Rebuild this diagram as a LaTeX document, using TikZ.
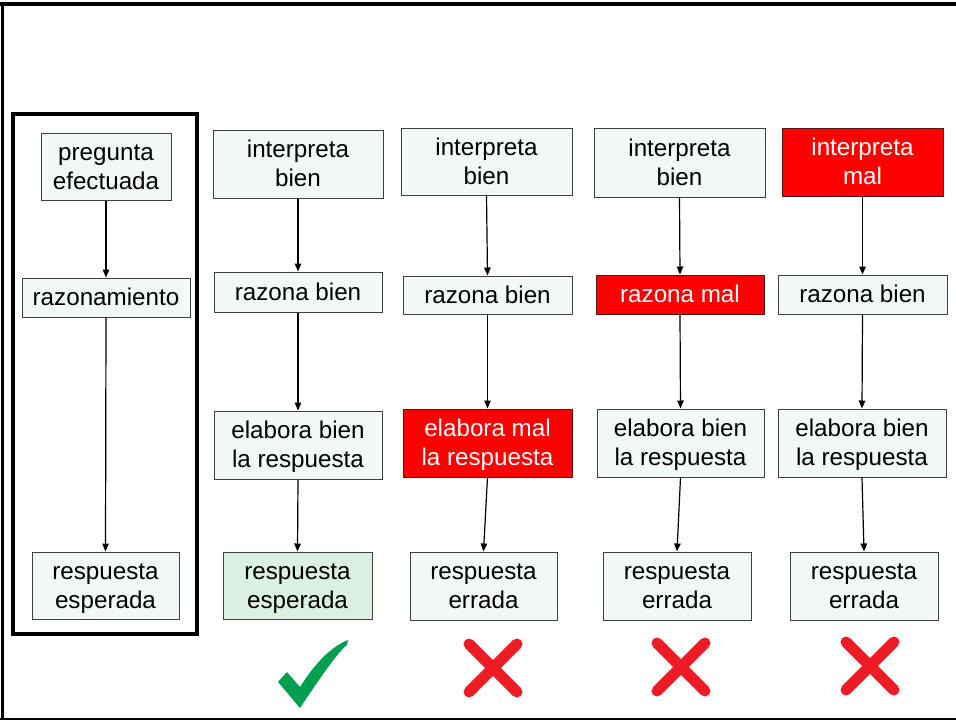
\documentclass[tikz,border=0pt]{standalone}
\usepackage{fontspec}
\setmainfont{Liberation Sans}
\usetikzlibrary{arrows.meta}
\definecolor{boxfill}{RGB}{242,248,248}
\definecolor{greenfill}{RGB}{217,240,227}
\definecolor{redfill}{RGB}{255,0,0}
\definecolor{boxline}{RGB}{64,64,64}
\definecolor{checkgreen}{RGB}{0,160,80}
\definecolor{crossred}{RGB}{237,28,36}
\newcommand{\myst}{\vrule width0pt height21.9pt depth5.2pt\relax}
\tikzset{
  box/.style={draw=boxline, line width=1pt, fill=boxfill, inner sep=0pt, align=center,
    font=\fontsize{24.2}{29}\selectfont, text=black},
  goodbox/.style={box, fill=greenfill},
  badbox/.style={box, fill=redfill, text=white, draw=boxline!60!red!60!black},
  sz/.style 2 args={minimum width=#1pt, minimum height=#2pt},
  arr/.style={draw=black, line width=1.2pt, -{Triangle[length=8pt,width=6.5pt]}},
  crossline/.style={draw=crossred, line width=11pt, line cap=round},
}
\begin{document}
\begin{tikzpicture}[x=1pt,y=-1pt]
\useasboundingbox (0,0) rectangle (956,721);
\fill[white] (0,0) rectangle (956,721);
% outer frame (top, left, bottom)
\draw[line width=4pt] (0,4) -- (956,4);
\draw[line width=3pt] (2.5,2) -- (2.5,720);
\draw[line width=2pt] (0,719) -- (956,719);
% left framed column
\draw[line width=4pt] (13,114) rectangle (197,634);

% column 0
\node[box, sz={130}{67}] (q0) at (106,167) {\myst pregunta\\\myst efectuada};
\node[box, sz={168}{39}] (r0) at (106,297.5) {\myst razonamiento};
\node[box, sz={147}{67}] (e0) at (105.5,585.5) {\myst respuesta\\\myst esperada};

% column 1
\node[box, sz={170}{68}] (i1) at (298,164) {\myst interpreta\\\myst bien};
\node[box, sz={168}{40}] (r1) at (298,292) {\myst razona bien};
\node[box, sz={168}{68}] (l1) at (298,445) {\myst elabora bien\\\myst la respuesta};
\node[goodbox, sz={149}{67}] (e1) at (297.5,585.5) {\myst respuesta\\\myst esperada};

% column 2
\node[box, sz={171}{67}] (i2) at (486.5,161.5) {\myst interpreta\\\myst bien};
\node[box, sz={169}{38}] (r2) at (487.5,295) {\myst razona bien};
\node[badbox, sz={169}{68}] (l2) at (487.5,443) {\myst elabora mal\\\myst la respuesta};
\node[box, sz={147}{68}] (e2) at (483.5,586) {\myst respuesta\\\myst errada};

% column 3
\node[box, sz={171}{69}] (i3) at (679.5,162.5) {\myst interpreta\\\myst bien};
\node[badbox, sz={168}{39}] (r3) at (680,294.5) {\myst razona mal};
\node[box, sz={167}{68}] (l3) at (680.5,443) {\myst elabora bien\\\myst la respuesta};
\node[box, sz={148}{68}] (e3) at (677,586) {\myst respuesta\\\myst errada};

% column 4
\node[badbox, sz={161}{68}] (i4) at (862.5,162) {\myst interpreta\\\myst mal};
\node[box, sz={169}{39}] (r4) at (862.5,294.5) {\myst razona bien};
\node[box, sz={168}{68}] (l4) at (862,443) {\myst elabora bien\\\myst la respuesta};
\node[box, sz={148}{68}] (e4) at (864,586) {\myst respuesta\\\myst errada};

% connectors
\draw[arr] (q0.south) -- (r0.north);
\draw[arr] (r0.south) -- (e0.north);
\foreach \c in {1,2,3,4}{
  \draw[arr] (i\c.south) -- (r\c.north);
  \draw[arr] (r\c.south) -- (l\c.north);
  \draw[arr] (l\c.south) -- (e\c.north);
}

% check mark
\fill[checkgreen] (278,682) -- (287,672) -- (300,687)
  .. controls (312,668) and (328,648) .. (348,640) -- (347,645)
  .. controls (338,652) and (322,675) .. (300,708) -- cycle;

% crosses
\foreach \cx/\cy in {493/668, 681/667, 870/666}{
  \draw[crossline] (\cx-24,\cy-24) -- (\cx+24,\cy+24);
  \draw[crossline] (\cx-24,\cy+24) -- (\cx+24,\cy-24);
}
\end{tikzpicture}
\end{document}
